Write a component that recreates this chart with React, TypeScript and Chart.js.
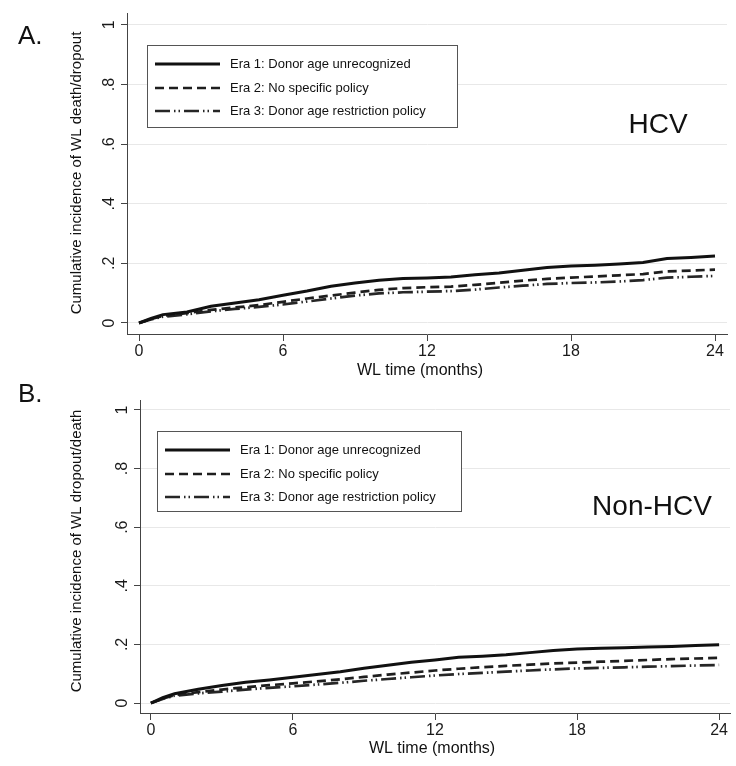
import React, { useEffect, useRef } from "react";
import { Chart, registerables } from "chart.js";

Chart.register(...registerables);

const months = [0, 0.5, 1, 2, 3, 4, 5, 6, 7, 8, 9, 10, 11, 12, 13, 14, 15, 16, 17, 18, 19, 20, 21, 22, 23, 24];

const hcvEra1 = [0, 0.015, 0.028, 0.037, 0.056, 0.067, 0.078, 0.093, 0.107, 0.123, 0.134, 0.143, 0.149, 0.151, 0.154, 0.162, 0.168, 0.177, 0.186, 0.191, 0.194, 0.198, 0.203, 0.216, 0.22, 0.225];
const hcvEra2 = [0, 0.013, 0.024, 0.033, 0.044, 0.052, 0.06, 0.071, 0.082, 0.092, 0.102, 0.111, 0.117, 0.12, 0.122, 0.128, 0.135, 0.142, 0.148, 0.152, 0.156, 0.16, 0.164, 0.173, 0.176, 0.179];
const hcvEra3 = [0, 0.012, 0.021, 0.029, 0.039, 0.047, 0.054, 0.062, 0.072, 0.082, 0.092, 0.099, 0.103, 0.105, 0.107, 0.112, 0.119, 0.125, 0.131, 0.134, 0.136, 0.139, 0.144, 0.152, 0.155, 0.158];

const nonHcvEra1 = [0, 0.018, 0.032, 0.047, 0.06, 0.071, 0.079, 0.088, 0.097, 0.107, 0.119, 0.129, 0.139, 0.147, 0.156, 0.16, 0.165, 0.172, 0.179, 0.184, 0.187, 0.189, 0.191, 0.193, 0.196, 0.199];
const nonHcvEra2 = [0, 0.015, 0.027, 0.037, 0.046, 0.054, 0.061, 0.067, 0.074, 0.081, 0.089, 0.097, 0.104, 0.111, 0.117, 0.122, 0.127, 0.131, 0.135, 0.138, 0.141, 0.144, 0.147, 0.15, 0.152, 0.154];
const nonHcvEra3 = [0, 0.014, 0.025, 0.033, 0.039, 0.046, 0.052, 0.057, 0.063, 0.069, 0.076, 0.082, 0.088, 0.094, 0.099, 0.103, 0.107, 0.111, 0.115, 0.118, 0.12, 0.122, 0.124, 0.126, 0.128, 0.13];

const eraLabels = [
  "Era 1: Donor age unrecognized",
  "Era 2: No specific policy",
  "Era 3: Donor age restriction policy",
];

const xTickValues = [0, 6, 12, 18, 24];
const yTickValues = [0, 0.2, 0.4, 0.6, 0.8, 1];
const yTickLabels = ["0", ".2", ".4", ".6", ".8", "1"];

const FONT = '"Liberation Sans", Arial, Helvetica, sans-serif';
const W = 736;
const H = 383;

const styles = [
  { color: "#111111", dash: [] as number[], width: 3 },
  { color: "#1e1e1e", dash: [9, 5], width: 2.7 },
  { color: "#262626", dash: [15, 4, 1.5, 3, 1.5, 4], width: 2.7 },
];

const overlayPlugin = {
  id: "overlay",
  afterDraw(chart: any, _args: any, opts: any) {
    const ctx = chart.ctx as CanvasRenderingContext2D;
    ctx.save();
    ctx.fillStyle = "#111";
    ctx.textBaseline = "middle";

    ctx.font = `26px ${FONT}`;
    ctx.textAlign = "left";
    ctx.fillText(opts.panel, opts.panelX, opts.panelY);

    ctx.font = `28px ${FONT}`;
    ctx.textAlign = "center";
    ctx.fillText(opts.group, opts.groupX, opts.groupY);

    ctx.save();
    ctx.translate(opts.yTitleX, opts.yTitleY);
    ctx.rotate(-Math.PI / 2);
    ctx.font = `15px ${FONT}`;
    ctx.textAlign = "center";
    ctx.fillText(opts.yTitle, 0, 0);
    ctx.restore();

    ctx.font = `16px ${FONT}`;
    ctx.textAlign = "center";
    ctx.fillText(opts.xTitle, opts.xTitleX, opts.xTitleY);

    const lg = opts.legend;
    ctx.fillStyle = "#fff";
    ctx.fillRect(lg.x, lg.y, lg.w, lg.h);
    ctx.strokeStyle = "#555";
    ctx.lineWidth = 1;
    ctx.strokeRect(lg.x + 0.5, lg.y + 0.5, lg.w, lg.h);
    const rows = [19, 43, 66];
    chart.data.datasets.forEach((ds: any, i: number) => {
      const ry = lg.y + rows[i];
      ctx.beginPath();
      ctx.setLineDash(ds.borderDash || []);
      ctx.lineWidth = ds.borderWidth;
      ctx.strokeStyle = ds.borderColor;
      ctx.moveTo(lg.x + 8, ry);
      ctx.lineTo(lg.x + 73, ry);
      ctx.stroke();
      ctx.setLineDash([]);
      ctx.fillStyle = "#111";
      ctx.font = `13px ${FONT}`;
      ctx.textAlign = "left";
      ctx.fillText(ds.label, lg.x + 83, ry);
    });
    ctx.restore();
  },
};

function makeConfig(series: number[][], area: any, xMin: number, xMax: number, yMin: number, yMax: number, overlay: any) {
  return {
    type: "line" as const,
    data: {
      datasets: series.map((vals, i) => ({
        label: eraLabels[i],
        data: months.map((m, j) => ({ x: m, y: vals[j] })),
        borderColor: styles[i].color,
        borderDash: styles[i].dash,
        borderWidth: styles[i].width,
        pointRadius: 0,
        tension: 0,
        fill: false,
      })),
    },
    options: {
      responsive: false,
      animation: false as const,
      devicePixelRatio: 1,
      layout: { padding: { left: 0, top: area.top, right: W - area.right, bottom: 0 } },
      plugins: {
        legend: { display: false },
        tooltip: { enabled: false },
        overlay,
      },
      scales: {
        x: {
          type: "linear" as const,
          min: xMin,
          max: xMax,
          afterBuildTicks: (s: any) => {
            s.ticks = xTickValues.map((v) => ({ value: v }));
          },
          afterFit: (s: any) => {
            s.height = H - area.bottom;
          },
          grid: { drawOnChartArea: false, drawTicks: true, tickLength: 7, tickColor: "#444", lineWidth: 1 },
          border: { display: true, color: "#444", width: 1 },
          ticks: {
            color: "#1a1a1a",
            font: { family: FONT, size: 16 },
            padding: 1,
            maxRotation: 0,
            minRotation: 0,
            autoSkip: false,
            callback: (v: any) => String(v),
          },
        },
        y: {
          type: "linear" as const,
          min: yMin,
          max: yMax,
          afterBuildTicks: (s: any) => {
            s.ticks = yTickValues.map((v) => ({ value: v }));
          },
          afterFit: (s: any) => {
            s.width = area.left;
          },
          grid: { color: "#e8e8e8", lineWidth: 1, drawTicks: true, tickLength: 6, tickColor: "#444" },
          border: { display: true, color: "#444", width: 1 },
          ticks: {
            color: "#1a1a1a",
            font: { family: FONT, size: 16, lineHeight: 1 },
            padding: 5,
            crossAlign: "center" as const,
            minRotation: 90,
            maxRotation: 90,
            autoSkip: false,
            callback: (_v: any, idx: number) => yTickLabels[idx],
          },
        },
      },
    },
    plugins: [overlayPlugin],
  };
}

export default function App() {
  const refA = useRef<HTMLCanvasElement | null>(null);
  const refB = useRef<HTMLCanvasElement | null>(null);

  useEffect(() => {
    const chartA = new Chart(
      refA.current as HTMLCanvasElement,
      makeConfig(
        [hcvEra1, hcvEra2, hcvEra3],
        { left: 127, right: 727, top: 13, bottom: 334 },
        -0.5,
        24.5,
        -0.037,
        1.04,
        {
          panel: "A.",
          panelX: 18,
          panelY: 37,
          group: "HCV",
          groupX: 658,
          groupY: 125,
          yTitle: "Cumulative incidence of WL death/dropout",
          yTitleX: 77,
          yTitleY: 173,
          xTitle: "WL time (months)",
          xTitleX: 420,
          xTitleY: 371,
          legend: { x: 147, y: 45, w: 310, h: 82 },
        }
      ) as any
    );
    const chartB = new Chart(
      refB.current as HTMLCanvasElement,
      makeConfig(
        [nonHcvEra1, nonHcvEra2, nonHcvEra3],
        { left: 140, right: 730, top: 17, bottom: 330 },
        -0.46,
        24.46,
        -0.034,
        1.034,
        {
          panel: "B.",
          panelX: 18,
          panelY: 12,
          group: "Non-HCV",
          groupX: 652,
          groupY: 124,
          yTitle: "Cumulative incidence of WL dropout/death",
          yTitleX: 77,
          yTitleY: 168,
          xTitle: "WL time (months)",
          xTitleX: 432,
          xTitleY: 366,
          legend: { x: 157, y: 48, w: 304, h: 80 },
        }
      ) as any
    );
    return () => {
      chartA.destroy();
      chartB.destroy();
    };
  }, []);

  return (
    <div style={{ position: "fixed", left: 0, top: 0, width: W, height: 766, background: "#fff" }}>
      <canvas ref={refA} width={W} height={H} style={{ position: "absolute", left: 0, top: 0, width: W, height: H }} />
      <canvas ref={refB} width={W} height={H} style={{ position: "absolute", left: 0, top: H, width: W, height: H }} />
    </div>
  );
}
